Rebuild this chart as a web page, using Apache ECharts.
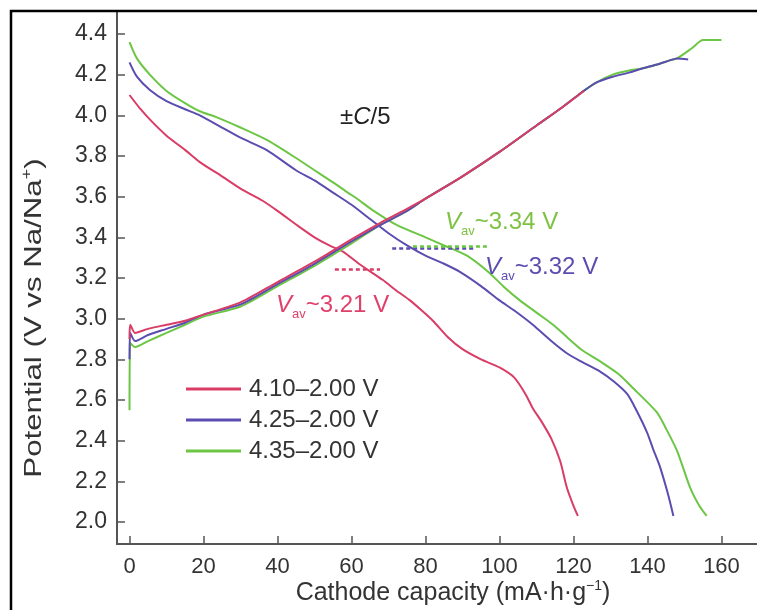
<!DOCTYPE html>
<html><head><meta charset="utf-8">
<script src="https://cdn.jsdelivr.net/npm/echarts@6/dist/echarts.min.js"></script>
<style>html,body{margin:0;padding:0;background:#fff}#c{width:757px;height:610px}</style>
</head><body><div id="c"></div>
<script>
const xTicks = [0, 20, 40, 60, 80, 100, 120, 140, 160];
const yTicks = [2.0, 2.2, 2.4, 2.6, 2.8, 3.0, 3.2, 3.4, 3.6, 3.8, 4.0, 4.2, 4.4];
const seriesNames = ['4.10\u20132.00 V', '4.25\u20132.00 V', '4.35\u20132.00 V'];
const seriesColors = ['#d93d66', '#5b4db0', '#6cc644'];

const redDischarge = [[0,4.10],[3,4.03],[6,3.97],[10,3.90],[15,3.83],[19,3.77],[25,3.70],[30,3.64],[36,3.58],[40,3.53],[46,3.45],[50,3.40],[54,3.36],[57.7,3.33],[62,3.27],[68.5,3.19],[72,3.14],[75.8,3.09],[79,3.04],[82,2.99],[86,2.91],[90,2.85],[95,2.80],[100,2.76],[104,2.71],[107,2.63],[109,2.56],[111.5,2.49],[114,2.41],[116.4,2.30],[118.2,2.17],[120,2.08],[121.2,2.03]];
const blueDischarge = [[0,4.26],[2,4.19],[5.5,4.125],[10,4.07],[15,4.03],[19,4.00],[25,3.94],[30,3.89],[37,3.83],[45,3.73],[50,3.68],[55,3.62],[60,3.56],[65,3.49],[70,3.42],[75,3.36],[80,3.31],[85,3.27],[89.3,3.23],[95,3.16],[100,3.09],[104,3.04],[109,2.97],[114,2.89],[118.2,2.83],[122,2.79],[127.2,2.74],[131,2.69],[134.5,2.63],[137,2.55],[139.9,2.44],[141.5,2.36],[143.4,2.27],[145.5,2.14],[147,2.03]];
const greenDischarge = [[0,4.36],[2,4.28],[5.5,4.20],[10,4.12],[15,4.06],[19,4.02],[23.6,3.99],[30,3.94],[37,3.88],[45,3.79],[50,3.73],[55,3.67],[59,3.62],[61.5,3.59],[66,3.53],[72.3,3.46],[80,3.40],[85,3.36],[91.2,3.31],[97,3.23],[101,3.16],[105.5,3.09],[110,3.03],[114.5,2.97],[118.2,2.91],[122,2.85],[127.2,2.79],[132,2.73],[136,2.66],[142.5,2.54],[145,2.46],[148,2.35],[151.5,2.17],[154,2.08],[156,2.03]];

const redCharge = [[0,2.90],[0.2,2.97],[1.5,2.93],[5,2.95],[10,2.97],[15,2.99],[20,3.02],[30,3.08],[40,3.18],[50,3.28],[60,3.39],[67.7,3.47],[75,3.54],[80,3.59],[90,3.70],[100,3.82],[110,3.95],[117,4.04],[122.8,4.12]];
const blueCharge = [[0,2.80],[0.2,2.93],[1.5,2.89],[5,2.92],[10,2.95],[15,2.98],[20,3.02],[30,3.07],[40,3.17],[50,3.27],[60,3.38],[67.7,3.46],[75,3.53],[80,3.59],[90,3.70],[100,3.82],[110,3.95],[117,4.04],[122,4.11],[126,4.16],[130.6,4.19],[135,4.21],[138.5,4.23],[142.6,4.25],[146,4.27],[148,4.28],[151,4.275]];
const greenCharge = [[0,2.55],[0.2,2.88],[1.5,2.86],[5,2.89],[10,2.93],[15,2.97],[20,3.01],[30,3.06],[40,3.16],[50,3.26],[60,3.37],[67.7,3.46],[75,3.53],[80,3.59],[90,3.70],[100,3.82],[110,3.95],[117,4.04],[122,4.11],[126,4.16],[130.6,4.20],[135,4.22],[138.5,4.23],[142.6,4.25],[146,4.27],[148,4.28],[152,4.33],[155,4.37],[160,4.37]];

// average-voltage dotted marks: [xStart, xEnd, y]
const avgRed = [55.5, 67.7, 3.245];
const avgBlue = [71, 93.4, 3.348];
const avgGreen = [76.6, 97.4, 3.356];

const FONT = '"Liberation Sans", Arial, sans-serif';
const chart = echarts.init(document.getElementById('c'), null, {renderer: 'canvas'});

function mk(avg, color) {
  return {
    silent: true, symbol: ['none', 'none'],
    lineStyle: {color: color, type: [4, 3], width: 2.5},
    label: {show: false},
    data: [[{coord: [avg[0], avg[2]]}, {coord: [avg[1], avg[2]]}]]
  };
}
function line(name, data, color, avg) {
  const s = {
    name: name, type: 'line', data: data, showSymbol: false, symbol: 'none',
    smooth: 0.25, lineStyle: {color: color, width: 2}, itemStyle: {color: color},
    z: 3
  };
  if (avg) s.markLine = mk(avg, color);
  return s;
}
function vav(x, y, value, color) {
  return {type: 'text', x: x, y: y, z: 10, style: {
    text: '{v|V}{s|av}{t|~' + value + ' V}', align: 'left', verticalAlign: 'middle',
    rich: {v: {fontSize: 24, fill: color, fontStyle: 'italic', fontFamily: FONT, lineHeight: 28, verticalAlign: 'top'},
           s: {fontSize: 13, fill: color, fontFamily: FONT, lineHeight: 28, verticalAlign: 'bottom'},
           t: {fontSize: 24, fill: color, fontFamily: FONT, lineHeight: 28, verticalAlign: 'top'}}}};
}

const option = {
  backgroundColor: '#fff',
  animation: false,
  textStyle: {fontFamily: FONT},
  grid: {left: 117, top: 11, right: 0, bottom: 66, containLabel: false},
  legend: {
    data: seriesNames, orient: 'vertical', left: 181, top: 372,
    icon: 'rect', itemWidth: 55, itemHeight: 3, itemGap: 7,
    textStyle: {fontSize: 24, color: '#333', fontFamily: FONT, lineHeight: 24, padding: [0, 0, 0, 3]}
  },
  xAxis: {
    type: 'value', min: -3.38, max: 169.6,
    splitLine: {show: false},
    axisLine: {show: true, lineStyle: {color: '#555', width: 2}},
    axisTick: {show: true, inside: true, length: 8, customValues: xTicks, lineStyle: {color: '#555', width: 1.5}},
    axisLabel: {customValues: xTicks, fontSize: 22, color: '#333', margin: 12, fontFamily: FONT}
  },
  yAxis: {
    type: 'value', min: 1.892, max: 4.513,
    splitLine: {show: false},
    axisLine: {show: true, onZero: false, lineStyle: {color: '#555', width: 2}},
    axisTick: {show: true, inside: true, length: 8, customValues: yTicks, lineStyle: {color: '#555', width: 1.5}},
    axisLabel: {customValues: yTicks, fontSize: 23, color: '#333', margin: 10, fontFamily: FONT,
      formatter: v => v.toFixed(1)}
  },
  graphic: [
    {type: 'rect', shape: {x: 11, y: 11, width: 800, height: 700}, style: {fill: 'none', stroke: '#000', lineWidth: 2.5}, z: 10, silent: true},
    {type: 'text', x: 453, y: 593, z: 10, style: {
      text: '{t|Cathode capacity (mA\u00b7h\u00b7g}{s|\u22121}{t|)}', align: 'center', verticalAlign: 'middle',
      rich: {t: {fontSize: 25, fill: '#333', fontFamily: FONT, lineHeight: 28, verticalAlign: 'middle'},
             s: {fontSize: 14, fill: '#333', fontFamily: FONT, lineHeight: 28, verticalAlign: 'top'}}}},
    {type: 'text', x: 34, y: 318, rotation: Math.PI / 2, scaleX: 1.3, z: 10, style: {
      text: '{t|Potential (V vs Na/Na}{s|+}{t|)}', align: 'center', verticalAlign: 'middle',
      rich: {t: {fontSize: 24, fill: '#333', fontFamily: FONT, lineHeight: 28, verticalAlign: 'middle'},
             s: {fontSize: 14, fill: '#333', fontFamily: FONT, lineHeight: 28, verticalAlign: 'top'}}}},
    {type: 'text', x: 340, y: 117, z: 10, style: {
      text: '{t|\u00b1}{i|C}{t|/5}', align: 'left', verticalAlign: 'middle',
      rich: {t: {fontSize: 24, fill: '#222', fontFamily: FONT}, i: {fontSize: 24, fill: '#222', fontFamily: FONT, fontStyle: 'italic'}}}},
    vav(445, 224, '3.34', '#7dc242'),
    vav(485, 269, '3.32', '#5b4db0'),
    vav(276, 307, '3.21', '#e0406a')
  ],
  series: [
    line(seriesNames[0], redDischarge, seriesColors[0], avgRed),
    line(seriesNames[1], blueDischarge, seriesColors[1], avgBlue),
    line(seriesNames[2], greenDischarge, seriesColors[2], avgGreen),
    line(seriesNames[2], greenCharge, seriesColors[2]),
    line(seriesNames[1], blueCharge, seriesColors[1]),
    line(seriesNames[0], redCharge, seriesColors[0])
  ]
};
chart.setOption(option);
</script>
</body></html>
